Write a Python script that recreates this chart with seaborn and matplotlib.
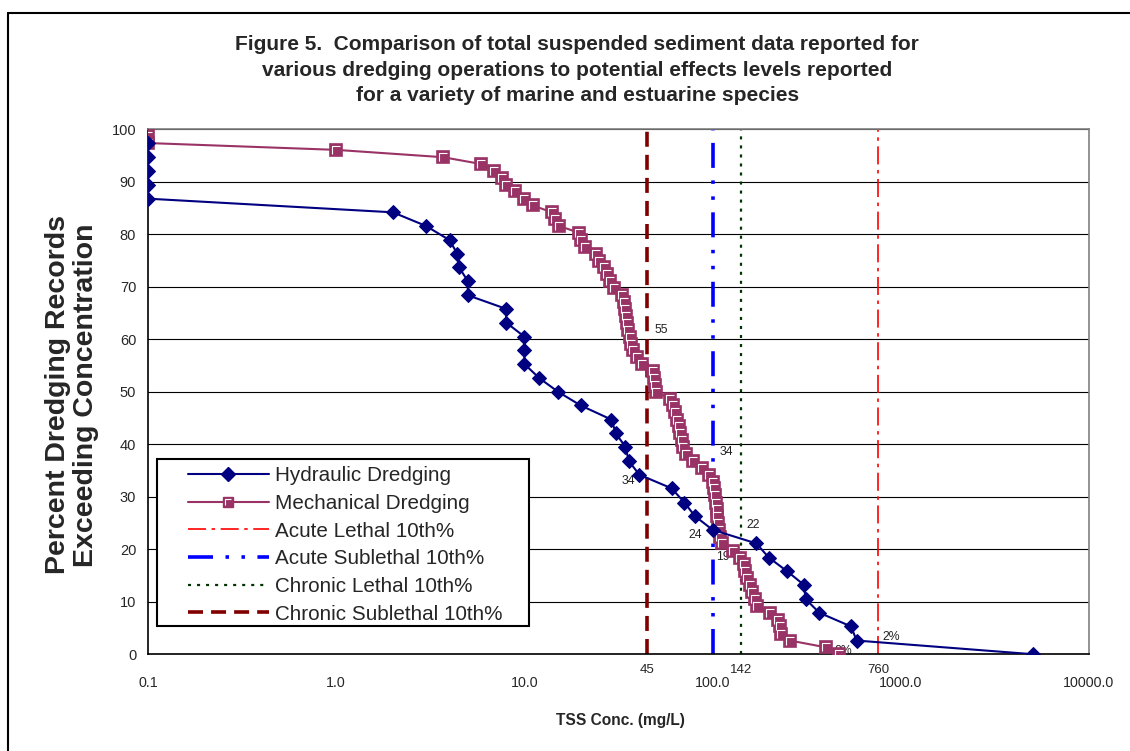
import numpy as np
import pandas as pd
import matplotlib
matplotlib.use('Agg')
import matplotlib.pyplot as plt
import seaborn as sns
from matplotlib.path import Path
from matplotlib.lines import Line2D
from matplotlib.patches import Rectangle
from matplotlib.legend_handler import HandlerTuple

# 데이터
hyd_tss = [0.1, 0.1, 0.1, 0.1, 0.1, 2.0, 3.0, 4.0, 4.4, 4.5, 5.0, 5.0, 8.0, 8.0,
           10.0, 10.0, 10.0, 12.0, 15.1, 19.9, 29.0, 30.6, 34.4, 35.9, 40.8,
           60.6, 70.8, 80.6, 100.0, 171, 199, 249, 306, 312, 369, 543, 583, 5020]
hyd_pct = [97.4, 94.7, 92.1, 89.5, 86.8, 84.2, 81.6, 78.9, 76.3, 73.7, 71.1, 68.4,
           65.8, 63.2, 60.5, 57.9, 55.3, 52.6, 50.0, 47.4, 44.7, 42.1, 39.5, 36.8,
           34.2, 31.6, 28.9, 26.3, 23.7, 21.1, 18.4, 15.8, 13.2, 10.5, 7.9, 5.3, 2.6, 0.0]

mech_tss = [0.1, 0.1, 1.0, 3.7, 5.9, 6.9, 7.6, 8.0, 8.9, 10.0, 11.1, 14.0, 14.6, 15.3,
            19.5, 20.0, 21.0, 24.0, 25.0, 26.5, 27.5, 28.5, 30.0, 33.0, 33.8, 34.2,
            34.6, 35.2, 35.6, 36.4, 37.0, 37.9, 39.5, 42.0, 48.4, 48.8, 49.4, 50.0,
            59.4, 61.8, 63.5, 64.4, 66.0, 67.1, 68.5, 69.9, 72.0, 78.9, 88.0, 96.0,
            101, 102, 103, 104, 105, 106, 107, 108, 109, 112, 128, 140, 146, 148,
            152, 158, 162, 167, 172, 202, 222, 228, 232, 258, 401, 471]
mech_pct = [98.7, 97.4, 96.1, 94.7, 93.4, 92.1, 90.8, 89.5, 88.2, 86.8, 85.5, 84.2,
            82.9, 81.6, 80.3, 78.9, 77.6, 76.3, 75.0, 73.7, 72.4, 71.1, 69.7, 68.4,
            67.1, 65.8, 64.5, 63.2, 61.8, 60.5, 59.2, 57.9, 56.6, 55.3, 53.9, 52.6,
            51.3, 50.0, 48.7, 47.4, 46.1, 44.7, 43.4, 42.1, 40.8, 39.5, 38.2, 36.8,
            35.5, 34.2, 32.9, 31.6, 30.3, 28.9, 27.6, 26.3, 25.0, 23.7, 22.4, 21.1,
            19.7, 18.4, 17.1, 15.8, 14.5, 13.2, 11.8, 10.5, 9.2, 7.9, 6.6, 5.3,
            3.9, 2.6, 1.3, 0.0]

# 기준선 (10th percentile 값)
levels = [760, 100, 142, 45]
level_names = ['Acute Lethal 10th%', 'Acute Sublethal 10th%',
               'Chronic Lethal 10th%', 'Chronic Sublethal 10th%']

# 기준선 위 라벨
point_labels = ['55', '34', '34', '24', '22', '19', '2%', '0%']
label_x = [49.4, 109, 33.0, 74, 152, 104, 803, 447]
label_y = [61.8, 38.5, 33.0, 22.7, 24.6, 18.5, 3.3, 0.6]

x_ticks = [0.1, 1, 10, 100, 1000, 10000]
x_tick_labels = ['0.1', '1.0', '10.0', '100.0', '1000.0', '10000.0']

sns.set_style('white')
plt.rcParams['font.family'] = ['Liberation Sans', 'DejaVu Sans']
plt.rcParams['lines.scale_dashes'] = False

hyd_df = pd.DataFrame({'TSS': hyd_tss, 'Pct': hyd_pct})
mech_df = pd.DataFrame({'TSS': mech_tss, 'Pct': mech_pct})

fig = plt.figure(figsize=(11.3, 7.51), dpi=100)
ax = fig.add_axes([0.131, 0.1289, 0.8327, 0.6988])

navy = '#000080'
plum = '#993366'

# 기준선
styles = [
    dict(color='#FF0000', lw=1.2, dashes=(13, 4, 2.5, 4)),
    dict(color='#0000FF', lw=2.6, dashes=(18, 9, 2.5, 9, 2.5, 9)),
    dict(color='#003300', lw=1.6, dashes=(2.2, 4.3)),
    dict(color='#800000', lw=2.6, dashes=(10.8, 5.8)),
]
vlines = []
for lv, st in zip(levels, styles):
    vlines.append(ax.axvline(lv, ymin=0, ymax=1, zorder=2, **st))

sns.lineplot(data=hyd_df, x='TSS', y='Pct', sort=False, estimator=None, ax=ax,
             color=navy, lw=1.5, marker='D', markersize=7.5, markeredgecolor=navy,
             zorder=4)
sns.lineplot(data=mech_df, x='TSS', y='Pct', sort=False, estimator=None, ax=ax,
             color=plum, lw=1.5, marker='s', markersize=8.5, markeredgecolor=plum,
             markeredgewidth=1.2, zorder=3)
# 사각형 마커 안쪽의 흰 선
ell = Path([(-0.5, -0.5), (-0.5, 0.5), (0.5, 0.5)], [Path.MOVETO, Path.LINETO, Path.LINETO])
ax.plot(mech_tss, mech_pct, linestyle='none', marker=ell, markersize=5.2,
        markeredgecolor='white', markerfacecolor='none', markeredgewidth=0.8, zorder=3.5)

ax.set_xscale('log')
ax.set_xlim(0.1, 10000)
ax.set_ylim(0, 100)
ax.set_xticks(x_ticks)
ax.set_xticklabels(x_tick_labels)
ax.minorticks_off()
ax.set_yticks(range(0, 101, 10))
ax.tick_params(axis='x', direction='out', length=5, width=1, pad=11, labelsize=10.3)
ax.tick_params(axis='y', direction='out', length=4, width=1, pad=4.5, labelsize=10.5)
ax.yaxis.grid(True, color='black', lw=0.8)
ax.xaxis.grid(False)
ax.set_axisbelow(True)
ax.set_xlabel('')
ax.set_ylabel('')
for s in ['left', 'bottom']:
    ax.spines[s].set_color('black')
    ax.spines[s].set_linewidth(1.2)
for s in ['top', 'right']:
    ax.spines[s].set_color('#808080')
    ax.spines[s].set_linewidth(1.2)

for t, x, y in zip(point_labels, label_x, label_y):
    ax.text(x, y, t, fontsize=8.8, ha='left', va='center', color='#222222', zorder=2.5)

for lv in [45, 142, 760]:
    ax.annotate(str(lv), xy=(lv, 0), xycoords=('data', 'axes fraction'),
                xytext=(0, -11.5), textcoords='offset points', ha='center', va='center',
                fontsize=9.5, annotation_clip=False)

# 범례
ax.add_patch(Rectangle((0.0096, 0.0537), 0.395, 0.318, transform=ax.transAxes,
                       facecolor='white', edgecolor='black', lw=1.5, zorder=5))
h_hyd = Line2D([], [], color=navy, lw=1.5, marker='D', markersize=7, markeredgecolor=navy)
h_mech = Line2D([], [], color=plum, lw=1.5, marker='s', markersize=7.5, markeredgecolor=plum)
h_mech2 = Line2D([], [], linestyle='none', marker=ell, markersize=4.5,
                 markeredgecolor='white', markerfacecolor='none', markeredgewidth=0.8)
handles = [h_hyd, (h_mech, h_mech2)] + vlines
labels = ['Hydraulic Dredging', 'Mechanical Dredging'] + level_names
leg = ax.legend(handles, labels, loc='upper left', bbox_to_anchor=(0.0425, 0.3583),
                frameon=False, fontsize=14.9, handlelength=3.91, handletextpad=0.29,
                labelspacing=0.42, borderpad=0, borderaxespad=0,
                handler_map={tuple: HandlerTuple(ndivide=1)})
leg.set_zorder(6)

fig.text(0.511, 1 - 70 / 751,
         'Figure 5.  Comparison of total suspended sediment data reported for\n'
         'various dredging operations to potential effects levels reported\n'
         'for a variety of marine and estuarine species',
         ha='center', va='center', fontsize=15, fontweight='bold', linespacing=1.42)
fig.text(72 / 1130, 1 - 395 / 751, 'Percent Dredging Records\nExceeding Concentration',
         rotation=90, ha='center', va='center', fontsize=20.5, fontweight='bold',
         linespacing=1.1)
fig.text(620 / 1130, 1 - 720 / 751, 'TSS Conc. (mg/L)', ha='center', va='center',
         fontsize=11.2, fontweight='bold')

# 바깥 테두리 (위쪽, 왼쪽)
fig.add_artist(Line2D([8 / 1130, 8 / 1130], [0, 1 - 13 / 751], color='black', lw=1.5,
                      transform=fig.transFigure))
fig.add_artist(Line2D([8 / 1130, 1], [1 - 13 / 751, 1 - 13 / 751], color='black', lw=1.5,
                      transform=fig.transFigure))

fig.savefig('out.png', dpi=100)
